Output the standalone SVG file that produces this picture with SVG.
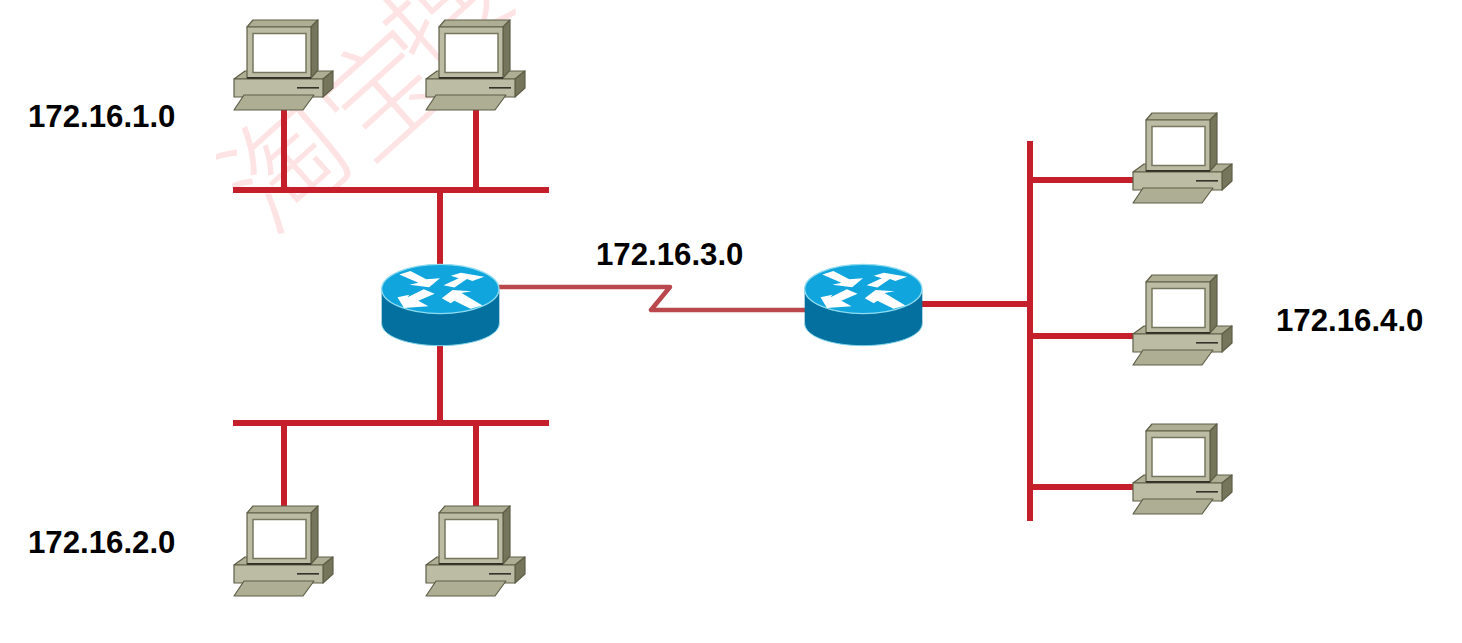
<svg xmlns="http://www.w3.org/2000/svg" width="1462" height="643" viewBox="0 0 1462 643">
<style>
.wm{font-family:"Noto Sans CJK SC","DejaVu Sans",sans-serif;font-weight:300;font-size:120px;fill:#fde3e3}
.lb{font-family:"Liberation Sans",Arial,sans-serif;font-weight:700;font-size:31.200px;fill:#000}
.bus{stroke:#c41f2b;stroke-width:6;fill:none}
.ser{stroke:#b9474c;stroke-width:4.5;fill:none;stroke-linejoin:round}
.p{stroke:#5f5f48;stroke-width:1.200;stroke-linejoin:round}
.f{fill:#bcbca4}.t{fill:#aeae94}.s{fill:#75755b}
</style>
<defs>
<g id="pc">
<polygon class="p t" points="234,79 245,71 333,71 323,79"/>
<polygon class="p s" points="323,79 333,71 333,88 323,97"/>
<rect class="p f" x="234" y="79" width="89" height="18"/>
<rect x="297" y="87" width="22" height="1.600" fill="#33332a"/>
<polygon class="p t" points="244,95 314,95 303,110 234,110"/>
<polygon class="p t" points="247,27 253,20 318,20 311,27"/>
<polygon class="p s" points="311,27 318,20 318,70 311,78"/>
<rect class="p f" x="247" y="27" width="64" height="51"/>
<rect x="253" y="33.500" width="53" height="39" fill="#fff" stroke="#77775f" stroke-width="1.500"/>
<rect x="247" y="77" width="64" height="1.800" fill="#2f2f25"/>
</g>
<g id="rt">
<path d="M35,105V205C35,245 115,272 210,272S388,245 388,205V105Z" fill="#04709f"/>
<ellipse cx="211" cy="102" rx="176" ry="74" fill="#10a5dd" stroke="#8fdcf0" stroke-width="4"/>
<path d="M35,205C35,245 115,272 210,272S388,245 388,205" fill="none" stroke="#7fd3ea" stroke-width="3"/>
<g fill="#fff" transform="translate(211,103) scale(1.080) translate(-211,-103)">
<polygon points="97,62 128,52 172,75 210,72 180,97 125,90 150,85"/>
<polygon points="220,92 262,72 240,65 268,57 333,68 300,80 285,74 250,98"/>
<polygon points="92,125 125,118 120,125 165,103 195,115 150,135 178,150 110,155"/>
<polygon points="215,128 245,105 298,108 270,113 328,148 295,157 250,135 240,142"/>
</g>
</g>
</defs>
<rect width="1462" height="643" fill="#fff"/>
<g id="watermark">
<text class="wm" transform="translate(270,238) rotate(-42)">淘</text>
<text class="wm" transform="translate(368,165) rotate(-42)">宝</text>
<text class="wm" transform="translate(428,82) rotate(-42)">搜</text>
</g>
<g id="connectors">
<path class="bus" d="M233,190H549M233,423H549M284,110V190M476,110V190M440,190V265M440,345V423M284,423V506M476,423V506"/>
<path class="bus" d="M1030,141V521M1030,180H1133M1030,336H1133M1030,487H1133M920,304H1030"/>
<path class="ser" d="M498,287H670L651,310H806"/>
</g>
<g id="pc-1"><use href="#pc"/></g>
<g id="pc-2"><use href="#pc" x="192"/></g>
<g id="pc-3"><use href="#pc" y="486"/></g>
<g id="pc-4"><use href="#pc" x="192" y="486"/></g>
<g id="pc-5"><use href="#pc" x="899" y="93"/></g>
<g id="pc-6"><use href="#pc" x="899" y="255"/></g>
<g id="pc-7"><use href="#pc" x="899" y="404"/></g>
<g id="router-1"><use href="#rt" transform="translate(370,255) scale(.3333)"/></g>
<g id="router-2"><use href="#rt" transform="translate(793,255) scale(.3333)"/></g>
<g id="labels">
<text class="lb" x="28" y="127">172.16.1.0</text>
<text class="lb" x="28" y="553">172.16.2.0</text>
<text class="lb" x="596" y="265">172.16.3.0</text>
<text class="lb" x="1276" y="331">172.16.4.0</text>
</g>
</svg>
